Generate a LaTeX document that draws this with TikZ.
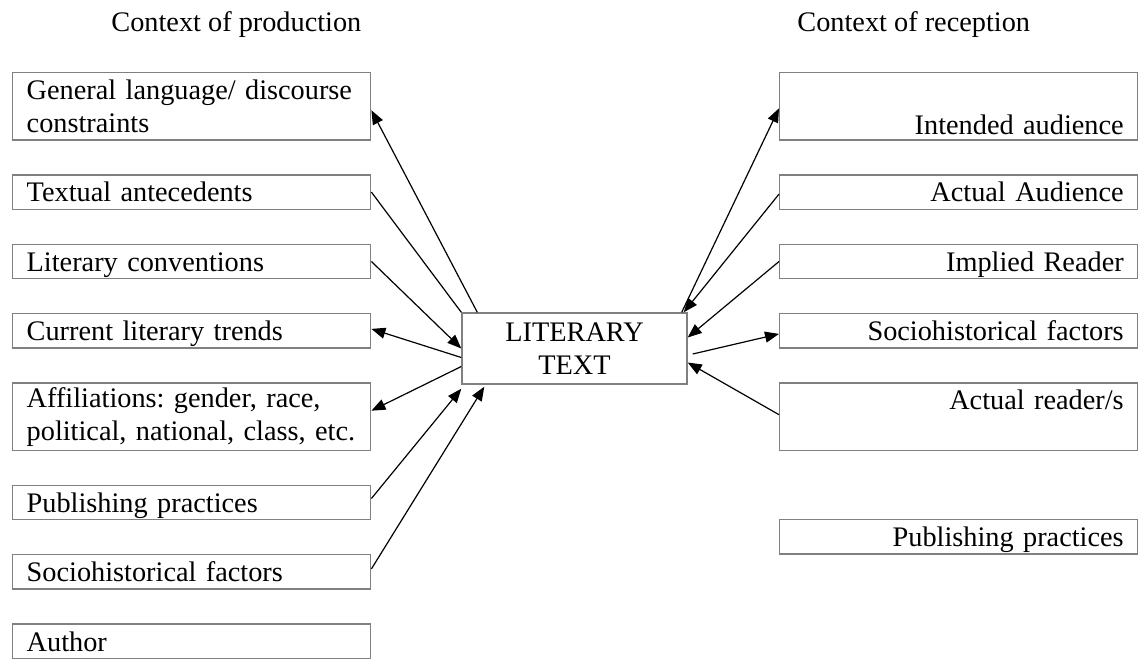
\documentclass[tikz,border=0pt]{standalone}
\usepackage{fontspec}
\setmainfont{Liberation Serif}
\usepackage{tikz}
\usetikzlibrary{arrows.meta,positioning}
\newcommand{\diagfont}{\fontsize{14.15pt}{16.6pt}\selectfont\frenchspacing}
\tikzset{
>={Triangle[length=7pt,width=5.5pt]}, % filled arrow heads
x=0.5pt, y=-0.5pt, % one unit is one pixel of the original
node distance=16.8pt, % gap between the boxes of a column
every node/.style={font=\diagfont},
box/.style={draw=black!50, line width=0.7pt, inner xsep=7pt, inner ysep=0pt, text width=165pt, minimum height=17.2pt},
oneline/.style={text height=9.7pt, text depth=0pt}, % keeps the baselines level
lbox/.style={box, oneline, align=left},
rbox/.style={box, oneline, align=right},
lboxtall/.style={box, align=left, minimum height=33.6pt},
rboxtall/.style={box, align=right, minimum height=33.6pt},
centrebox/.style={draw=black!50, line width=0.7pt, minimum width=112.5pt, minimum height=35.5pt, align=center},
title/.style={anchor=base west, inner sep=0pt},
link/.style={line width=0.6pt},
}

\begin{document}
\begin{tikzpicture}
		\useasboundingbox (0,0) rectangle (1138,658);
		\clip (0,0) rectangle (1138,658);
		\node[title] (prod) at (111,32) {Context of production};
		\node[title] (recep) at (797,32) {Context of reception};
		% production side
		\node[lboxtall, anchor=north west] (L1) at (12,72) {General language/ discourse\\constraints};
		\node[lbox, below=of L1] (L2) {Textual antecedents};
		\node[lbox, below=of L2] (L3) {Literary conventions};
		\node[lbox, below=of L3] (L4) {Current literary trends};
		\node[lboxtall, below=of L4] (L5) {Affiliations: gender, race,\\political, national, class, etc.};
		\node[lbox, below=of L5] (L6) {Publishing practices};
		\node[lbox, below=of L6] (L7) {Sociohistorical factors};
		\node[lbox, below=of L7] (L8) {Author};
		% reception side
		\node[rboxtall, anchor=north west] (R1) at (779,72) {\strut\\Intended audience};
		\node[rbox, below=of R1] (R2) {Actual Audience};
		\node[rbox, below=of R2] (R3) {Implied Reader};
		\node[rbox, below=of R3] (R4) {Sociohistorical factors};
		\node[rboxtall, below=of R4] (R5) {Actual reader/s\\\mbox{}};
		\node[rbox, below=34pt of R5] (R6) {Publishing practices};
		% the text itself
		\node[centrebox] (LT) at (574.5,348.5) {LITERARY\\TEXT};
		\draw[link, ->] ([xshift=8pt]LT.north west) -- ([yshift=-2pt]L1.east);
		\draw[link] (L2.east) -- (LT.north west);
		\draw[link, ->] (L3.east) -- (LT.west);
		\draw[link, ->] ([yshift=-4.5pt]LT.west) -- ([yshift=1pt]L4.east);
		\draw[link, ->] ([yshift=-9pt]LT.west) -- ([yshift=3pt]L5.east);
		\draw[link, ->] ([yshift=2pt]L6.east) -- ([yshift=-2pt]LT.south west);
		\draw[link, ->] ([yshift=1.5pt]L7.east) -- ([shift={(11.5pt,-1pt)}]LT.south west);
		\draw[link, ->] ([xshift=-3pt]LT.north east) -- ([yshift=-1pt]R1.west);
		\draw[link, ->] ([yshift=-1pt]R2.west) -- ([xshift=-2pt]LT.north east);
		\draw[link, ->] (R3.west) -- ([yshift=5.5pt]LT.east);
		\draw[link, ->] ([shift={(2.5pt,-2.75pt)}]LT.east) -- ([yshift=-1.5pt]R4.west);
		\draw[link, ->] ([yshift=1pt]R5.west) -- ([yshift=-7pt]LT.east);
	\end{tikzpicture}
\end{document}
